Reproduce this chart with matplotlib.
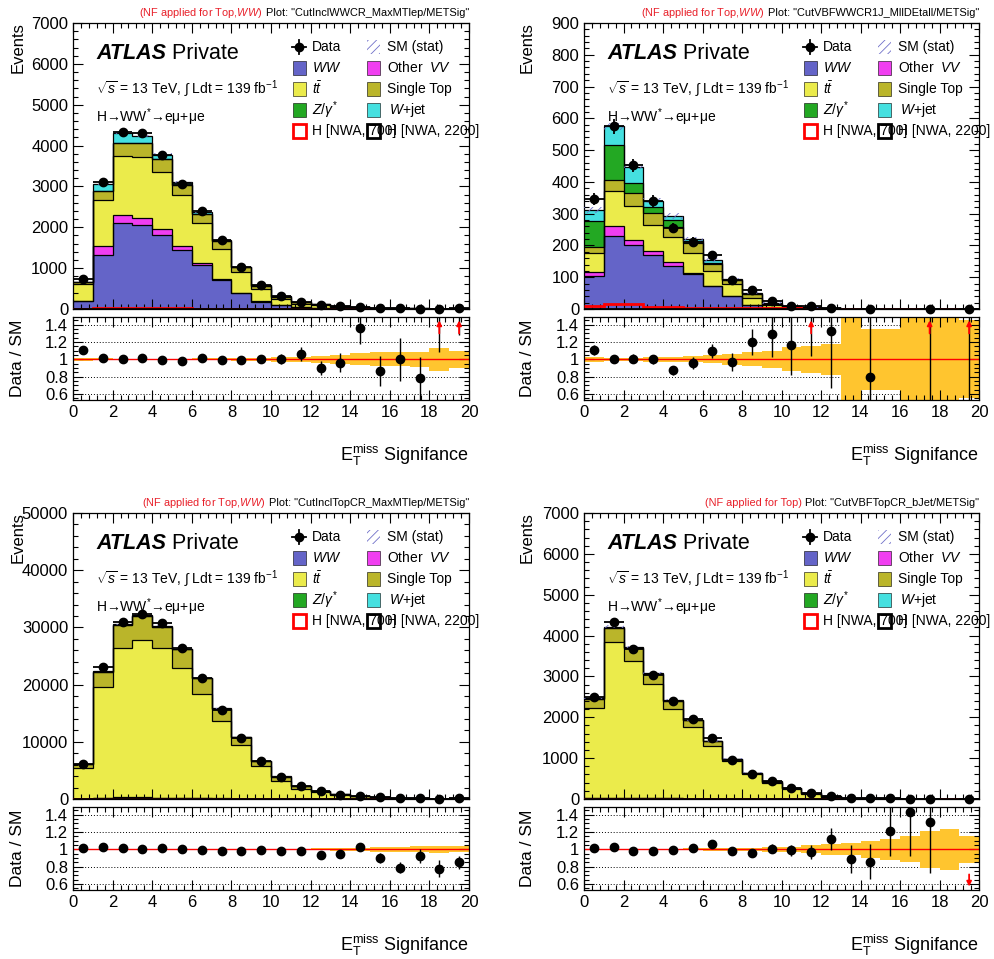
import numpy as np
import matplotlib
matplotlib.use("Agg")
import matplotlib.pyplot as plt
from matplotlib.patches import Rectangle
from matplotlib.lines import Line2D
from matplotlib.ticker import MultipleLocator, FixedLocator, FixedFormatter

plt.rcParams['font.family'] = ['Liberation Sans', 'DejaVu Sans']
plt.rcParams['mathtext.fontset'] = 'custom'
plt.rcParams['mathtext.rm'] = 'Liberation Sans'
plt.rcParams['mathtext.it'] = 'Liberation Sans:italic'
plt.rcParams['mathtext.bf'] = 'Liberation Sans:bold'
plt.rcParams['mathtext.sf'] = 'Liberation Sans'
plt.rcParams['hatch.linewidth'] = 0.6

nan = np.nan
bin_edges = np.arange(0, 21, 1)

# ---------------- data ----------------
process_names = ["WW", "Other VV", "ttbar", "Single Top", "Z/gamma*", "W+jet"]
process_colors = ["#6464c8", "#f03ef0", "#ebeb4b", "#bab52a", "#23a823", "#45e0e0"]

# Panel 1: CutInclWWCR_MaxMTlep/METSig
wwcr_ww = [190, 1330, 2100, 2060, 1815, 1440, 1075, 710, 380, 180, 95, 45, 30, 20, 10, 8, 4, 3, 1, 2]
wwcr_othervv = [15, 200, 200, 160, 140, 90, 45, 25, 12, 6, 3, 2, 1, 1, 1, 0, 0, 0, 0, 0]
wwcr_ttbar = [400, 1130, 1440, 1510, 1405, 1250, 980, 730, 520, 305, 145, 75, 55, 35, 18, 13, 7, 6, 2, 4]
wwcr_singletop = [45, 230, 325, 340, 300, 245, 215, 205, 115, 80, 62, 42, 33, 24, 13, 9, 5, 3.8, 1, 2]
wwcr_zgamma = [3, 4, 5, 5, 4, 2, 1, 0, 0, 0, 0, 0, 0, 0, 0, 0, 0, 0, 0, 0]
wwcr_wjet = [8, 170, 240, 162, 115, 80, 50, 28, 13, 6, 3, 2, 1, 0, 0, 0, 0, 0, 0, 0]
wwcr_data = [730, 3110, 4330, 4300, 3760, 3060, 2390, 1690, 1030, 580, 310, 177, 108, 77, 57, 26, 16, 10, 7, 14]
wwcr_statrel = [0.015, 0.01, 0.008, 0.008, 0.008, 0.009, 0.01, 0.012, 0.015, 0.02, 0.025, 0.03, 0.04, 0.05, 0.07, 0.08, 0.08, 0.09, 0.13, 0.10]
wwcr_sig700 = [5, 25, 25, 22, 20, 15, 10, 8, 6, 5, 4, 3, 3, 3, 2, 2, 1, 1, 1, 1]
wwcr_sig2200 = [1, 1, 1, 1, 1, 1, 1, 1, 1, 1, 1, 1, 2, 2, 2, 2, 2, 2, 2, 3]

# Panel 2: CutVBFWWCR1J_MllDEtall/METSig
vbfww_ww = [105, 230, 202, 170, 134, 111, 71, 40, 12, 4, 2, 1, 0.6, 0.2, 0.25, 0.1, 0.1, 0.05, 0.05, 0.1]
vbfww_othervv = [13, 32, 15, 11, 13, 2, 1, 0, 0, 0, 0, 0, 0, 0, 0, 0, 0, 0, 0, 0]
vbfww_ttbar = [58, 109, 107, 84, 81, 63, 49, 39, 23, 8, 4, 2.5, 1.5, 0.8, 0.6, 0.5, 0.3, 0.2, 0.2, 0.3]
vbfww_singletop = [19, 35, 40, 36, 29, 31, 21, 11, 12, 5, 3, 1.5, 0.9, 0.5, 0.4, 0.2, 0.1, 0.05, 0.05, 0.1]
vbfww_zgamma = [83, 110, 32, 21, 23, 8, 3, 1, 1, 0, 0, 0, 0, 0, 0, 0, 0, 0, 0, 0]
vbfww_wjet = [34, 59, 52, 19, 13, 5, 10, 2, 2, 1.6, 0.4, 0, 0, 0, 0, 0, 0, 0, 0, 0]
vbfww_data = [345, 575, 452, 341, 256, 211, 170, 90, 60, 24, 11, 8, 4, nan, 1, nan, nan, 1, nan, 1]
vbfww_statrel = [0.03, 0.02, 0.02, 0.025, 0.03, 0.035, 0.045, 0.06, 0.08, 0.10, 0.14, 0.16, 0.18, 0.6, 0.35, 0.35, 0.6, 0.6, 0.6, 0.45]
vbfww_sig700 = [8, 15, 15, 6, 5, 4, 3, 3, 2, 2, 2, 1, 1, 1, 1, 1, 1, 1, 1, 1]
vbfww_sig2200 = [0.5, 0.5, 0.5, 0.5, 0.5, 0.5, 0.5, 0.5, 0.5, 0.5, 0.5, 0.5, 1, 1, 1, 1, 1, 1, 1, 1]

# Panel 3: CutInclTopCR_MaxMTlep/METSig
topcr_ww = [60, 200, 260, 250, 220, 150, 110, 80, 55, 35, 25, 18, 10, 7, 5, 3, 2, 1.5, 1, 2]
topcr_othervv = [8, 20, 20, 20, 20, 15, 10, 10, 5, 2, 2, 2, 0, 0, 0, 0, 0, 0, 0, 0]
topcr_ttbar = [5400, 19300, 26100, 27600, 26100, 22700, 18150, 13500, 9300, 5800, 3180, 1800, 1150, 640, 450, 265, 160, 104, 64, 120]
topcr_singletop = [600, 2700, 4000, 4150, 3800, 3350, 2850, 2200, 1460, 870, 720, 400, 265, 150, 103, 60, 37, 24, 15, 27]
topcr_zgamma = [5, 15, 20, 20, 15, 10, 8, 5, 3, 2, 1, 1, 0, 0, 0, 0, 0, 0, 0, 0]
topcr_wjet = [40, 150, 160, 150, 110, 75, 65, 50, 40, 20, 13, 10, 5, 3, 2, 2, 1, 0.5, 0, 1]
topcr_data = [6205, 22990, 31020, 32320, 30720, 26405, 21108, 15607, 10700, 6702, 3850, 2198, 1337, 760, 575, 297, 158, 120, 62, 128]
topcr_statrel = [0.004, 0.003, 0.003, 0.003, 0.003, 0.003, 0.003, 0.004, 0.005, 0.006, 0.008, 0.01, 0.012, 0.015, 0.02, 0.025, 0.03, 0.035, 0.04, 0.035]
topcr_sig700 = [20, 60, 80, 80, 60, 50, 40, 30, 20, 15, 10, 8, 6, 5, 4, 3, 2, 2, 1, 1]
topcr_sig2200 = [5, 5, 5, 5, 5, 5, 5, 5, 5, 5, 5, 5, 5, 5, 5, 5, 5, 5, 5, 5]

# Panel 4: CutVBFTopCR_bJet/METSig
vbftop_ww = [15, 20, 20, 15, 15, 10, 8, 5, 3, 3, 3, 2, 1, 1, 0.5, 0.5, 0.2, 0.1, 0.1, 0.1]
vbftop_othervv = [5, 5, 5, 3, 3, 2, 2, 1, 1, 0, 0, 0, 0, 0, 0, 0, 0, 0, 0, 0]
vbftop_ttbar = [2210, 3820, 3360, 2800, 2195, 1755, 1285, 915, 605, 400, 235, 128, 56, 30, 17.5, 11.5, 4.6, 3.1, 2.5, 1.6]
vbftop_singletop = [220, 330, 300, 250, 195, 160, 115, 50, 28, 25, 30, 18, 8, 5, 3, 2, 0.8, 0.6, 0.4, 0.3]
vbftop_zgamma = [5, 5, 5, 2, 2, 1, 0, 0, 0, 0, 0, 0, 0, 0, 0, 0, 0, 0, 0, 0]
vbftop_wjet = [15, 40, 30, 10, 15, 5, 10, 4, 3, 2, 2, 2, 1, 0, 0, 0, 0, 0, 0, 0]
vbftop_data = [2506, 4337, 3663, 3035, 2405, 1953, 1505, 960, 611, 434, 267, 146, 74, 32, 18, 17, 8, 5, nan, 0]
vbftop_statrel = [0.01, 0.008, 0.008, 0.01, 0.01, 0.012, 0.015, 0.018, 0.02, 0.025, 0.03, 0.045, 0.06, 0.07, 0.1, 0.12, 0.15, 0.21, 0.24, 0.16]
vbftop_sig700 = [5, 10, 10, 8, 6, 5, 4, 3, 2, 2, 2, 1, 1, 1, 1, 1, 1, 1, 1, 1]
vbftop_sig2200 = [1, 1, 1, 1, 1, 1, 1, 1, 1, 1, 1, 1, 1, 1, 1, 1, 1, 1, 1, 1]

# ---------------- figure ----------------
W, H = 994, 959
fig = plt.figure(figsize=(W / 100, H / 100), dpi=100)


def fpos(x0, ytop, x1, ybot):
    return [x0 / W, 1 - ybot / H, (x1 - x0) / W, (ybot - ytop) / H]


panels = [
    dict(x0=73, x1=469, top=23, bot=309, rtop=317, rbot=400, xlab_y=455, ylab_x=18,
         ymax=7000, ymaj=1000, ymin=200,
         nf='(NF applied for Top,$WW$)', plot='Plot: "CutInclWWCR_MaxMTlep/METSig"',
         stacks=(wwcr_ww, wwcr_othervv, wwcr_ttbar, wwcr_singletop, wwcr_zgamma, wwcr_wjet),
         data=wwcr_data, stat=wwcr_statrel, sig=(wwcr_sig700, wwcr_sig2200)),
    dict(x0=584, x1=979, top=23, bot=309, rtop=317, rbot=400, xlab_y=455, ylab_x=527,
         ymax=900, ymaj=100, ymin=20,
         nf='(NF applied for Top,$WW$)', plot='Plot: "CutVBFWWCR1J_MllDEtall/METSig"',
         stacks=(vbfww_ww, vbfww_othervv, vbfww_ttbar, vbfww_singletop, vbfww_zgamma, vbfww_wjet),
         data=vbfww_data, stat=vbfww_statrel, sig=(vbfww_sig700, vbfww_sig2200)),
    dict(x0=73, x1=469, top=513, bot=799, rtop=807, rbot=890, xlab_y=945, ylab_x=18,
         ymax=50000, ymaj=10000, ymin=2000,
         nf='(NF applied for Top,$WW$)', plot='Plot: "CutInclTopCR_MaxMTlep/METSig"',
         stacks=(topcr_ww, topcr_othervv, topcr_ttbar, topcr_singletop, topcr_zgamma, topcr_wjet),
         data=topcr_data, stat=topcr_statrel, sig=(topcr_sig700, topcr_sig2200)),
    dict(x0=584, x1=979, top=513, bot=799, rtop=807, rbot=890, xlab_y=945, ylab_x=527,
         ymax=7000, ymaj=1000, ymin=200,
         nf='(NF applied for Top)', plot='Plot: "CutVBFTopCR_bJet/METSig"',
         stacks=(vbftop_ww, vbftop_othervv, vbftop_ttbar, vbftop_singletop, vbftop_zgamma, vbftop_wjet),
         data=vbftop_data, stat=vbftop_statrel, sig=(vbftop_sig700, vbftop_sig2200)),
]

RLO, RHI = 0.53, 1.49
TICK_FS = 12


def style_axes(a):
    a.set_xlim(0, 20)
    a.xaxis.set_major_locator(MultipleLocator(2))
    a.xaxis.set_minor_locator(MultipleLocator(0.4))
    a.tick_params(which='both', direction='in', top=True, right=True, labelsize=TICK_FS)
    a.tick_params(which='major', length=7, width=0.8)
    a.tick_params(which='minor', length=3.5, width=0.8)
    for s in a.spines.values():
        s.set_linewidth(0.9)


def draw_panel(p):
    x0, x1, top, bot = p['x0'], p['x1'], p['top'], p['bot']
    ax = fig.add_axes(fpos(x0, top, x1, bot))
    rax = fig.add_axes(fpos(x0, p['rtop'], x1, p['rbot']))
    style_axes(ax)
    style_axes(rax)

    def axc(px, py):
        return ((px - x0) / (x1 - x0), (bot - py) / (bot - top))

    centers = 0.5 * (bin_edges[:-1] + bin_edges[1:])
    base = np.zeros(20)
    tops = []
    for comp, col in zip(p['stacks'], process_colors):
        t = base + np.asarray(comp, float)
        ax.stairs(t, bin_edges, baseline=base, fill=True, facecolor=col, edgecolor='none', lw=0, zorder=1)
        tops.append(t)
        base = t
    for t in tops:
        ax.stairs(t, bin_edges, baseline=None, color='black', lw=0.9, zorder=2)
    tot = base
    stat = np.asarray(p['stat'], float)
    err = tot * stat
    ax.stairs(tot + err, bin_edges, baseline=tot - err, fill=True, facecolor='none',
              edgecolor='#7070c8', hatch='////', lw=0, zorder=3)
    ax.stairs(np.asarray(p['sig'][0], float), bin_edges, baseline=None, color='red', lw=2, zorder=4)
    ax.stairs(np.asarray(p['sig'][1], float), bin_edges, baseline=None, color='black', lw=2, zorder=4)

    data = np.asarray(p['data'], float)
    m = np.isfinite(data)
    ax.errorbar(centers[m], data[m], yerr=np.sqrt(data[m]), xerr=0.5, fmt='o', color='black',
                ms=6, lw=1.3, capsize=0, zorder=6, clip_on=False)
    ax.set_ylim(0, p['ymax'])
    ax.yaxis.set_major_locator(MultipleLocator(p['ymaj']))
    ax.yaxis.set_minor_locator(MultipleLocator(p['ymin']))
    ax.tick_params(labelbottom=False)

    # ratio pad
    rax.stairs(1 + stat, bin_edges, baseline=1 - stat, fill=True, color='#ffc52f', lw=0, zorder=1)
    for yl in (0.6, 0.8, 1.2, 1.4):
        rax.axhline(yl, color='black', lw=0.7, ls=(0, (1, 2)), zorder=0.5)
    rax.axhline(1.0, color='red', lw=1.0, zorder=2)
    ratio = data / tot
    rerr = np.sqrt(np.where(m, data, 0)) / tot
    for i in range(20):
        if not m[i]:
            continue
        x = centers[i]
        r, e = ratio[i], rerr[i]
        if RLO <= r <= RHI:
            rax.errorbar([x], [r], yerr=[e], fmt='o', color='black', ms=6, lw=1.0, capsize=0, zorder=5)
        elif r > RHI:
            rax.vlines(x, r - e, r + e, color='black', lw=1.0, zorder=4)
            rax.annotate('', xy=(x, 1.45), xytext=(x, 1.30),
                         arrowprops=dict(arrowstyle='-|>', color='red', lw=1.3, mutation_scale=7,
                                         shrinkA=0, shrinkB=0), zorder=6)
        else:
            if r + e > RLO:
                rax.vlines(x, r - e, r + e, color='black', lw=1.0, zorder=4)
            rax.annotate('', xy=(x, 0.57), xytext=(x, 0.71),
                         arrowprops=dict(arrowstyle='-|>', color='red', lw=1.3, mutation_scale=7,
                                         shrinkA=0, shrinkB=0), zorder=6)
    rax.set_ylim(RLO, RHI)
    rax.yaxis.set_major_locator(FixedLocator([0.6, 0.8, 1.0, 1.2, 1.4]))
    rax.yaxis.set_major_formatter(FixedFormatter(['0.6', '0.8', '1', '1.2', '1.4']))
    rax.yaxis.set_minor_locator(MultipleLocator(0.05))

    # axis labels
    fig.text(p['ylab_x'] / W, 1 - (top - 1) / H, 'Events', rotation=90, ha='center', va='top', fontsize=12)
    fig.text(p['ylab_x'] / W, 1 - ((p['rtop'] + p['rbot']) / 2) / H, 'Data / SM', rotation=90,
             ha='center', va='center', fontsize=12.5)
    fig.text(x1 / W, 1 - p['xlab_y'] / H, r'E$_{\mathrm{T}}^{\mathrm{miss}}$ Signifance',
             ha='right', va='center', fontsize=13)

    # top plot info
    t_black = fig.text(x1 / W, 1 - (top - 10) / H, p['plot'], ha='right', va='center', fontsize=7.9, color='black')
    ax.annotate(p['nf'], xy=(0, 0.5), xycoords=t_black, xytext=(-2.5, 0), textcoords='offset points',
                ha='right', va='center', fontsize=7.9, color='#e8202a', annotation_clip=False)

    # ATLAS label
    tx, ty = axc(x0 + 23, top + 41)
    ta = ax.text(tx, ty, 'ATLAS', transform=ax.transAxes, fontsize=15.5, fontweight='bold',
                 fontstyle='italic', ha='left', va='bottom')
    ax.annotate(' Private', xy=(1, 0), xycoords=ta, ha='left', va='bottom', fontsize=15.5,
                annotation_clip=False)
    tx, ty = axc(x0 + 23, top + 71)
    ax.text(tx, ty, r'$\sqrt{s}$ = 13 TeV, $\int$ Ldt = 139 fb$^{-1}$', transform=ax.transAxes,
            fontsize=10, ha='left', va='baseline')
    tx, ty = axc(x0 + 23, top + 99)
    ax.text(tx, ty, 'H\u2192WW$^{*}$\u2192e\u03bc+\u03bce', transform=ax.transAxes,
            fontsize=10, ha='left', va='baseline')

    # legend
    rows = [top + 24, top + 45, top + 66, top + 87, top + 108]
    c1m, c1t, c2m, c2t = x0 + 226, x0 + 239, x0 + 300, x0 + 314
    bw, bh = 13, 14

    def box(cx, cy, **kw):
        bx, by = axc(cx - bw / 2, cy + bh / 2)
        ww_ = bw / (x1 - x0)
        hh_ = bh / (bot - top)
        ax.add_patch(Rectangle((bx, by), ww_, hh_, transform=ax.transAxes, clip_on=False, zorder=8, **kw))

    def label(px, py, s):
        lx, ly = axc(px, py)
        ax.text(lx, ly, s, transform=ax.transAxes, fontsize=10, ha='left', va='center', zorder=9)

    # data marker
    mx, my = axc(c1m, rows[0])
    dx = 7 / (x1 - x0)
    dy = 7 / (bot - top)
    ax.add_line(Line2D([mx - dx, mx + dx], [my, my], transform=ax.transAxes, color='black', lw=1.3, clip_on=False))
    ax.add_line(Line2D([mx, mx], [my - dy, my + dy], transform=ax.transAxes, color='black', lw=1.3, clip_on=False))
    ax.add_line(Line2D([mx], [my], transform=ax.transAxes, marker='o', ms=6, color='black', clip_on=False))
    label(c1t, rows[0], 'Data')
    box(c1m, rows[1], facecolor=process_colors[0], edgecolor='black', lw=0.4)
    label(c1t, rows[1], r'$WW$')
    box(c1m, rows[2], facecolor=process_colors[2], edgecolor='black', lw=0.4)
    label(c1t, rows[2], r'$t\bar{t}$')
    box(c1m, rows[3], facecolor=process_colors[4], edgecolor='black', lw=0.4)
    label(c1t, rows[3], r'$Z/\gamma^{*}$')
    box(c1m, rows[4], facecolor='white', edgecolor='red', lw=2)
    label(c1t, rows[4], 'H [NWA, 700]')

    box(c2m, rows[0], facecolor='none', edgecolor='#7070c8', hatch='////', lw=0)
    label(c2t, rows[0], 'SM (stat)')
    box(c2m, rows[1], facecolor=process_colors[1], edgecolor='black', lw=0.4)
    label(c2t, rows[1], r'Other  $VV$')
    box(c2m, rows[2], facecolor=process_colors[3], edgecolor='black', lw=0.4)
    label(c2t, rows[2], 'Single Top')
    box(c2m, rows[3], facecolor=process_colors[5], edgecolor='black', lw=0.4)
    label(c2t + 2, rows[3], r'$W$+jet')
    box(c2m, rows[4], facecolor='none', edgecolor='black', lw=2)
    label(c2t, rows[4], 'H [NWA, 2200]')


for p in panels:
    draw_panel(p)

fig.savefig('out.png', dpi=100)
